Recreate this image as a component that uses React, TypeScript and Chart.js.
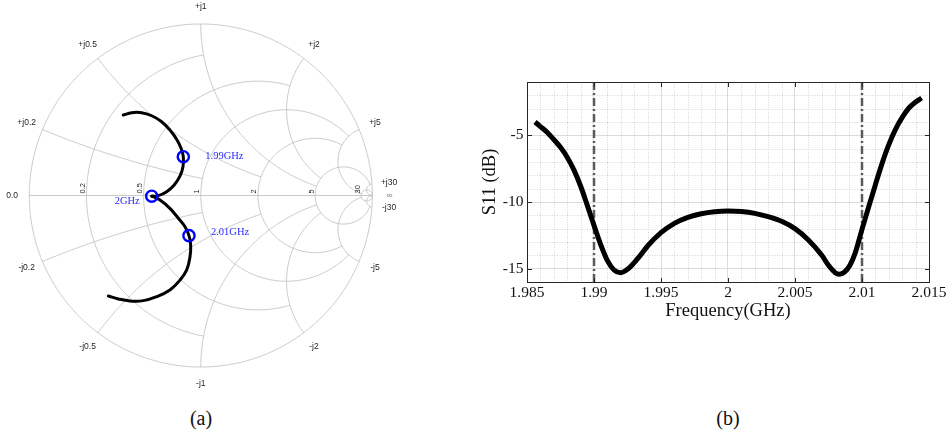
import React, { useEffect, useRef } from "react";
import { Chart, registerables } from "chart.js";

Chart.register(...registerables);

// ---------- (a) Smith chart: reflection coefficient along the sweep ----------
const GAMMA_RE = [-0.452, -0.403, -0.345, -0.286, -0.228, -0.180, -0.141, -0.115, -0.102, -0.104, -0.121, -0.155, -0.199, -0.248, -0.286, -0.238, -0.180, -0.131, -0.092, -0.069, -0.059, -0.063, -0.082, -0.121, -0.180, -0.257, -0.335, -0.413, -0.481, -0.539];
const GAMMA_IM = [0.469, 0.483, 0.483, 0.465, 0.430, 0.382, 0.328, 0.275, 0.226, 0.168, 0.114, 0.061, 0.022, -0.001, -0.004, -0.026, -0.075, -0.133, -0.182, -0.234, -0.289, -0.357, -0.434, -0.493, -0.551, -0.590, -0.613, -0.615, -0.603, -0.586];
const MARKER_INDEX = [8, 14, 19];
const MARKER_LABELS = ["1.99GHz", "2GHz", "2.01GHz"];
const CUSP_INDEX = 14;

// Smith grid: circle values and the value where each circle / arc stops
const GRID_VALUES = [0.2, 0.5, 1, 2, 5, 30];
const GRID_ENDS = [1, 2, 5, 5, 30, Infinity];
const R_LABELS = ["0.2", "0.5", "1", "2", "5", "30"];
const X_POS_LABELS = ["+j0.2", "+j0.5", "+j1", "+j2", "+j5", "+j30"];
const X_NEG_LABELS = ["-j0.2", "-j0.5", "-j1", "-j2", "-j5", "-j30"];

// ---------- (b) S11 versus frequency ----------
const FREQ_GHZ = [1.9856, 1.986, 1.9865, 1.987, 1.9875, 1.988, 1.9885, 1.989, 1.9895, 1.99, 1.9905, 1.991, 1.9915, 1.992, 1.9925, 1.993, 1.9935, 1.994, 1.995, 1.996, 1.997, 1.998, 1.999, 2.0, 2.001, 2.002, 2.003, 2.004, 2.005, 2.006, 2.007, 2.0075, 2.008, 2.0083, 2.0087, 2.0091, 2.0095, 2.01, 2.0105, 2.011, 2.0115, 2.012, 2.0125, 2.013, 2.0135, 2.014, 2.01445];
const S11_DB = [-4.0, -4.34, -4.77, -5.31, -5.9, -6.64, -7.59, -8.8, -10.25, -11.75, -13.2, -14.4, -15.1, -15.3, -15.05, -14.55, -13.95, -13.3, -12.3, -11.6, -11.15, -10.88, -10.73, -10.68, -10.72, -10.85, -11.1, -11.45, -12.0, -12.85, -14.0, -14.75, -15.3, -15.42, -15.25, -14.75, -13.8, -12.05, -10.35, -8.7, -7.1, -5.7, -4.55, -3.65, -2.95, -2.5, -2.2];
const BAND_EDGES_GHZ = [1.99, 2.01];
const X_TICKS = [1.985, 1.99, 1.995, 2, 2.005, 2.01, 2.015];
const X_TICK_LABELS = ["1.985", "1.99", "1.995", "2", "2.005", "2.01", "2.015"];
const Y_TICKS = [-15, -10, -5];
const Y_TICK_LABELS = ["-15", "-10", "-5"];
const X_RANGE = [1.985, 2.015];
const Y_RANGE = [-16, -1];
const X_MINOR_STEP = 0.001;
const Y_MINOR_STEP = 1;

const TAU = Math.PI * 2;
const gammaOf = (r: number, x: number) => {
  const d = (r + 1) * (r + 1) + x * x;
  return [(r * r + x * x - 1) / d, (2 * x) / d];
};
const mod2pi = (a: number) => ((a % TAU) + TAU) % TAU;

function SmithChart() {
  const ref = useRef<HTMLCanvasElement | null>(null);
  useEffect(() => {
    const canvas = ref.current!;
    const W = 410, H = 400, R = 171.5, CX = 200.8, CY = 195.5;

    const labelOffsets: [number, number, CanvasTextAlign][] = [
      [22, 0, "left"],
      [-12, 5, "right"],
      [22, -3, "left"],
    ];

    const gridPlugin = {
      id: "smithGrid",
      beforeDatasetsDraw(chart: any) {
        const { ctx } = chart;
        const sx = chart.scales.x, sy = chart.scales.y;
        const P = (re: number, im: number) => [sx.getPixelForValue(re), sy.getPixelForValue(im)];
        const arc = (cx: number, cy: number, rad: number, t1: number, t2: number) => {
          const n = Math.max(30, Math.ceil(Math.abs(t2 - t1) * rad * R / 1.5));
          ctx.beginPath();
          for (let i = 0; i <= n; i++) {
            const t = t1 + ((t2 - t1) * i) / n;
            const [px, py] = P(cx + rad * Math.cos(t), cy + rad * Math.sin(t));
            if (i === 0) ctx.moveTo(px, py);
            else ctx.lineTo(px, py);
          }
          ctx.stroke();
        };
        ctx.save();
        ctx.strokeStyle = "#bdbdbd";
        ctx.lineWidth = 0.8;
        arc(0, 0, 1, 0, TAU);
        {
          const [x1, y1] = P(-1, 0);
          const [x2, y2] = P(1, 0);
          ctx.beginPath();
          ctx.moveTo(x1, y1);
          ctx.lineTo(x2, y2);
          ctx.stroke();
        }
        GRID_VALUES.forEach((v, i) => {
          const end = GRID_ENDS[i];
          // constant-resistance circle
          const c = v / (v + 1), rad = 1 / (v + 1);
          let t1 = 0;
          if (isFinite(end)) {
            const [gx, gy] = gammaOf(v, end);
            t1 = Math.atan2(gy, gx - c);
          }
          arc(c, 0, rad, t1, TAU - t1);
          // constant-reactance arcs
          for (const s of [1, -1]) {
            const ccy = s / v, rr = 1 / v;
            const [ax, ay] = gammaOf(0, s * v);
            const a1 = Math.atan2(ay - ccy, ax - 1);
            let a2: number;
            if (isFinite(end)) {
              const [bx, by] = gammaOf(end, s * v);
              a2 = Math.atan2(by - ccy, bx - 1);
            } else a2 = Math.atan2(-ccy, 0);
            const d = s > 0 ? mod2pi(a2 - a1) : -mod2pi(a1 - a2);
            arc(1, ccy, rr, a1, a1 + d);
          }
        });
        // labels
        ctx.fillStyle = "#1e1e1e";
        ctx.font = "8.5px 'Liberation Sans', Arial, sans-serif";
        ctx.textAlign = "center";
        ctx.textBaseline = "middle";
        const outer = (re: number, im: number, txt: string) => {
          const [px, py] = P(re * 1.1, im * 1.1);
          ctx.fillText(txt, px, py);
        };
        outer(-1, 0, "0.0");
        GRID_VALUES.forEach((v, i) => {
          const [gx, gy] = gammaOf(0, v);
          outer(gx, gy, X_POS_LABELS[i]);
          outer(gx, -gy, X_NEG_LABELS[i]);
        });
        ctx.fillStyle = "#777";
        outer(1, 0, "\u221E");
        ctx.fillStyle = "#1e1e1e";
        ctx.font = "7.5px 'Liberation Sans', Arial, sans-serif";
        GRID_VALUES.forEach((v, i) => {
          const [px, py] = P((v - 1) / (v + 1), 0);
          ctx.save();
          ctx.translate(px - 1.5, py - 2);
          ctx.rotate(-Math.PI / 2);
          ctx.textAlign = "left";
          ctx.textBaseline = "alphabetic";
          ctx.fillText(R_LABELS[i], 0, 0);
          ctx.restore();
        });
        ctx.restore();
      },
      afterDatasetsDraw(chart: any) {
        const { ctx } = chart;
        const sx = chart.scales.x, sy = chart.scales.y;
        ctx.save();
        ctx.fillStyle = "#2a2aff";
        ctx.font = "10.5px 'Liberation Serif', 'Times New Roman', serif";
        ctx.textBaseline = "middle";
        MARKER_INDEX.forEach((k, i) => {
          const px = sx.getPixelForValue(GAMMA_RE[k]);
          const py = sy.getPixelForValue(GAMMA_IM[k]);
          const [dx, dy, al] = labelOffsets[i];
          ctx.textAlign = al;
          ctx.fillText(MARKER_LABELS[i], px + dx, py + dy);
        });
        ctx.restore();
      },
    };

    const pts = GAMMA_RE.map((re, i) => ({ x: re, y: GAMMA_IM[i] }));
    const curveStyle = {
      showLine: true,
      borderColor: "#000",
      borderWidth: 3,
      pointRadius: 0,
      tension: 0.4,
      borderCapStyle: "round" as const,
    };
    const chart = new Chart(canvas, {
      type: "scatter",
      data: {
        datasets: [
          {
            data: MARKER_INDEX.map((k) => ({ x: GAMMA_RE[k], y: GAMMA_IM[k] })),
            pointRadius: 5.6,
            pointBorderWidth: 2.4,
            pointBorderColor: "#0000ff",
            pointBackgroundColor: "rgba(0,0,0,0)",
            showLine: false,
          } as any,
          { data: pts.slice(0, CUSP_INDEX + 1), ...curveStyle },
          { data: pts.slice(CUSP_INDEX), ...curveStyle },
        ],
      },
      options: {
        responsive: false,
        animation: false,
        devicePixelRatio: 1,
        layout: { padding: 0, autoPadding: false },
        plugins: { legend: { display: false }, tooltip: { enabled: false } },
        scales: {
          x: { type: "linear", display: false, min: -CX / R, max: (W - CX) / R },
          y: { type: "linear", display: false, min: (CY - H) / R, max: CY / R },
        },
      } as any,
      plugins: [gridPlugin],
    });
    return () => chart.destroy();
  }, []);
  return (
    <canvas
      ref={ref}
      width={410}
      height={400}
      style={{ position: "absolute", left: 0, top: 0, width: 410, height: 400 }}
    />
  );
}

function S11Chart() {
  const ref = useRef<HTMLCanvasElement | null>(null);
  useEffect(() => {
    const canvas = ref.current!;
    const axisColor = "#262626";
    const serif = "'Liberation Serif', 'Times New Roman', serif";

    const framePlugin = {
      id: "frame",
      beforeDatasetsDraw(chart: any) {
        const { ctx, chartArea: a } = chart;
        const sx = chart.scales.x, sy = chart.scales.y;
        ctx.save();
        ctx.strokeStyle = "rgba(0,0,0,0.17)";
        ctx.lineWidth = 1;
        ctx.setLineDash([1, 1.5]);
        const nx = Math.round((X_RANGE[1] - X_RANGE[0]) / X_MINOR_STEP);
        for (let k = 1; k < nx; k++) {
          const v = X_RANGE[0] + k * X_MINOR_STEP;
          if (X_TICKS.some((t) => Math.abs(t - v) < 1e-9)) continue;
          const p = Math.round(sx.getPixelForValue(v)) + 0.5;
          ctx.beginPath();
          ctx.moveTo(p, a.top);
          ctx.lineTo(p, a.bottom);
          ctx.stroke();
        }
        const ny = Math.round((Y_RANGE[1] - Y_RANGE[0]) / Y_MINOR_STEP);
        for (let k = 1; k < ny; k++) {
          const v = Y_RANGE[0] + k * Y_MINOR_STEP;
          if (Y_TICKS.some((t) => Math.abs(t - v) < 1e-9)) continue;
          const p = Math.round(sy.getPixelForValue(v)) + 0.5;
          ctx.beginPath();
          ctx.moveTo(a.left, p);
          ctx.lineTo(a.right, p);
          ctx.stroke();
        }
        ctx.restore();
      },
      afterDatasetsDraw(chart: any) {
        const { ctx, chartArea: a } = chart;
        const sx = chart.scales.x, sy = chart.scales.y;
        ctx.save();
        ctx.strokeStyle = axisColor;
        ctx.lineWidth = 1;
        ctx.setLineDash([]);
        const L = a.left + 0.5, T = a.top + 0.5, Rr = a.right + 0.5, B = a.bottom + 0.5;
        ctx.strokeRect(L, T, Rr - L, B - T);
        const tl = 4.5;
        ctx.beginPath();
        X_TICKS.forEach((v) => {
          const p = Math.round(sx.getPixelForValue(v)) + 0.5;
          ctx.moveTo(p, B);
          ctx.lineTo(p, B - tl);
          ctx.moveTo(p, T);
          ctx.lineTo(p, T + tl);
        });
        Y_TICKS.forEach((v) => {
          const p = Math.round(sy.getPixelForValue(v)) + 0.5;
          ctx.moveTo(L, p);
          ctx.lineTo(L + tl, p);
          ctx.moveTo(Rr, p);
          ctx.lineTo(Rr - tl, p);
        });
        ctx.stroke();
        ctx.restore();
      },
    };

    const chart = new Chart(canvas, {
      type: "line",
      data: {
        datasets: [
          {
            data: FREQ_GHZ.map((f, i) => ({ x: f, y: S11_DB[i] })),
            borderColor: "#000",
            borderWidth: 5,
            pointRadius: 0,
            cubicInterpolationMode: "monotone",
          },
          ...BAND_EDGES_GHZ.map((f) => ({
            data: [
              { x: f, y: Y_RANGE[0] },
              { x: f, y: Y_RANGE[1] },
            ],
            borderColor: "#5a5a5a",
            borderWidth: 2.5,
            borderDash: [8, 3, 2, 3],
            pointRadius: 0,
          })),
        ],
      },
      options: {
        responsive: false,
        animation: false,
        devicePixelRatio: 1,
        layout: { padding: { left: 0, top: 22, right: 21, bottom: 0 }, autoPadding: false },
        plugins: { legend: { display: false }, tooltip: { enabled: false } },
        scales: {
          x: {
            type: "linear",
            min: X_RANGE[0],
            max: X_RANGE[1],
            afterBuildTicks: (s: any) => {
              s.ticks = X_TICKS.map((v) => ({ value: v }));
            },
            afterFit: (s: any) => {
              s.height = 58;
            },
            grid: { color: "#dcdcdc", drawTicks: false },
            border: { display: false },
            ticks: {
              padding: 2,
              autoSkip: false,
              maxRotation: 0,
              color: "#111",
              font: { family: serif, size: 15.5 },
              callback: (_v: any, i: number) => X_TICK_LABELS[i],
            },
            title: {
              display: true,
              text: "Frequency(GHz)",
              color: "#111",
              font: { family: serif, size: 18.5 },
              padding: { top: 0, bottom: 18 },
            },
          },
          y: {
            type: "linear",
            min: Y_RANGE[0],
            max: Y_RANGE[1],
            afterBuildTicks: (s: any) => {
              s.ticks = Y_TICKS.map((v) => ({ value: v }));
            },
            afterFit: (s: any) => {
              s.width = 87;
            },
            grid: { color: "#dcdcdc", drawTicks: false },
            border: { display: false },
            ticks: {
              padding: 3.5,
              color: "#111",
              font: { family: serif, size: 15.5 },
              callback: (_v: any, i: number) => Y_TICK_LABELS[i],
            },
            title: {
              display: true,
              text: "S11 (dB)",
              color: "#111",
              font: { family: serif, size: 18.5 },
              padding: { top: 39, bottom: 0 },
            },
          },
        },
      } as any,
      plugins: [framePlugin],
    });
    return () => chart.destroy();
  }, []);
  return (
    <canvas
      ref={ref}
      width={510}
      height={280}
      style={{ position: "absolute", left: 440, top: 60, width: 510, height: 280 }}
    />
  );
}

export default function App() {
  const caption: React.CSSProperties = {
    position: "absolute",
    top: 406,
    width: 60,
    textAlign: "center",
    fontFamily: "'Liberation Serif', 'Times New Roman', serif",
    fontSize: 20,
    lineHeight: "24px",
    color: "#111",
  };
  return (
    <div style={{ position: "absolute", left: 0, top: 0, width: 950, height: 438, background: "#fff", overflow: "hidden" }}>
      <SmithChart />
      <S11Chart />
      <div style={{ ...caption, left: 171 }}>(a)</div>
      <div style={{ ...caption, left: 698 }}>(b)</div>
    </div>
  );
}
